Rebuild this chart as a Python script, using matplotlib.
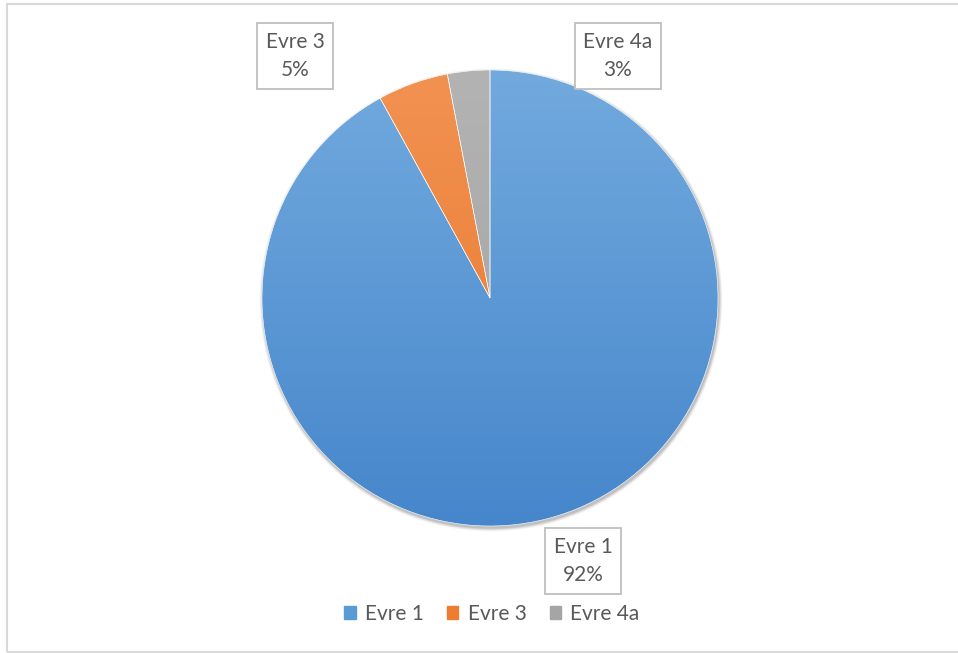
import numpy as np
import matplotlib
matplotlib.use("Agg")
import matplotlib.pyplot as plt
from matplotlib.colors import LinearSegmentedColormap
from matplotlib.patches import Rectangle, Circle

plt.rcParams['font.family'] = ['Lato', 'DejaVu Sans']

# stage shares
labels = ['Evre 1', 'Evre 3', 'Evre 4a']
values = [92, 5, 3]
# top / bottom colours of each slice gradient
tops = ['#72aade', '#f29252', '#b3b3b3']
bottoms = ['#4686cb', '#e8762a', '#a2a2a2']
legend_cols = ['#5b9bd5', '#ed7d31', '#a5a5a5']

W, H = 958, 653
fig = plt.figure(figsize=(W / 100, H / 100), dpi=100)
ax = fig.add_axes([0, 0, 1, 1])

cx, cy, r = 490, H - 298, 228

# soft shadow under the pie
for k, a in zip(range(6, 0, -1), [0.02, 0.03, 0.04, 0.05, 0.06, 0.07]):
    ax.add_patch(Circle((cx + 1, cy - 2), r + k * 0.6, color='black', alpha=a, lw=0, zorder=1))

wedges, _ = ax.pie(values, startangle=90, counterclock=False, center=(cx, cy),
                   radius=r, frame=True,
                   wedgeprops=dict(linewidth=0.4, edgecolor='white'))

grad = np.linspace(1, 0, 256).reshape(-1, 1)
for w, t, b in zip(wedges, tops, bottoms):
    w.set_facecolor('none')
    w.set_zorder(3)
    cmap = LinearSegmentedColormap.from_list('g', [b, t])
    im = ax.imshow(grad, cmap=cmap, extent=(cx - r, cx + r, cy - r, cy + r),
                   aspect='auto', origin='upper', zorder=2)
    im.set_clip_path(w)

ax.set_xlim(0, W)
ax.set_ylim(0, H)
ax.axis('off')

# data labels in boxes
label_pos = [(583, 561), (295, 56), (618, 56)]
for lab, v, (x, y) in zip(labels, values, label_pos):
    ax.text(x, H - y, f'{lab}\n{v}%', ha='center', va='center', fontsize=15,
            color='#595959', linespacing=1.5, zorder=5,
            bbox=dict(boxstyle='square,pad=0.42', fc='white', ec='#bfbfbf', lw=1.3))

# legend
handles = [Rectangle((0, 0), 1, 1, color=c) for c in legend_cols]
leg = ax.legend(handles, labels, loc='center', bbox_to_anchor=(492 / W, 1 - 614 / H),
                ncol=3, frameon=False, fontsize=15, handlelength=0.55, handleheight=0.55,
                handletextpad=0.45, columnspacing=1.1)
for t in leg.get_texts():
    t.set_color('#595959')

# chart frame
ax.add_patch(Rectangle((7, 1), W + 10, H - 5, fill=False, ec='#d9d9d9', lw=1.5, zorder=6))

fig.savefig('out.png', dpi=100)
